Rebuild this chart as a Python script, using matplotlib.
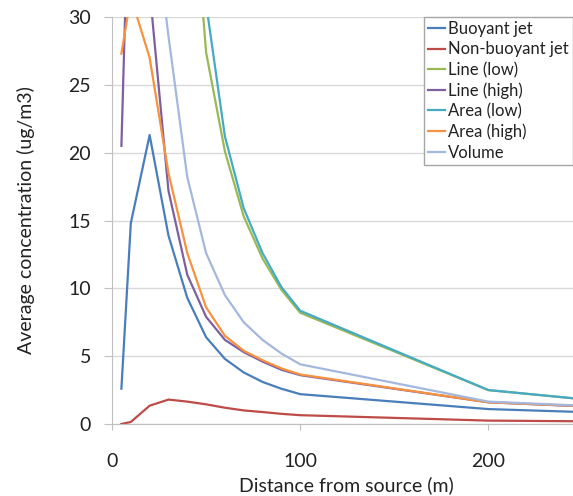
import matplotlib.pyplot as plt

plt.rcParams['font.family'] = ['Lato', 'DejaVu Sans']

distance = [5, 10, 20, 30, 40, 50, 60, 70, 80, 90, 100, 200, 250]

buoyant_jet = [2.6, 14.8, 21.3, 13.9, 9.3, 6.4, 4.8, 3.8, 3.1, 2.6, 2.2, 1.1, 0.88]
non_buoyant_jet = [0.0, 0.15, 1.35, 1.8, 1.65, 1.45, 1.2, 1.0, 0.88, 0.75, 0.65, 0.25, 0.2]
line_low = [None, None, None, None, 45.0, 27.4, 20.1, 15.3, 12.2, 9.9, 8.2, 2.5, 1.83]
line_high = [20.5, 45.0, 32.0, 17.2, 11.0, 7.9, 6.2, 5.3, 4.6, 4.0, 3.6, 1.6, 1.3]
area_low = [None, None, None, None, 50.0, 31.0, 21.2, 15.9, 12.6, 10.1, 8.35, 2.5, 1.83]
area_high = [27.3, 31.5, 27.0, 18.5, 12.6, 8.6, 6.5, 5.4, 4.7, 4.1, 3.65, 1.6, 1.32]
volume = [None, None, 40.0, 28.6, 18.2, 12.6, 9.5, 7.5, 6.2, 5.2, 4.4, 1.65, 1.35]

labels = ['Buoyant jet', 'Non-buoyant jet', 'Line (low)', 'Line (high)',
          'Area (low)', 'Area (high)', 'Volume']
colors = ['#4A7EBB', '#BE4B48', '#98B954', '#7D60A0', '#46AAC5', '#F69240', '#A3B8DC']
series = [buoyant_jet, non_buoyant_jet, line_low, line_high, area_low, area_high, volume]

fig = plt.figure(figsize=(5.73, 4.96), dpi=100)
ax = fig.add_axes([112 / 573, 72 / 496, 1 - 112 / 573, 407 / 496])

for vals, lab, col in zip(series, labels, colors):
    xs = [d for d, v in zip(distance, vals) if v is not None]
    ys = [v for v in vals if v is not None]
    ax.plot(xs, ys, color=col, lw=1.6, label=lab)

ax.set_xlim(0, 245)
ax.set_ylim(0, 30)
ax.set_xticks([0, 100, 200])
ax.set_yticks(range(0, 31, 5))
ax.grid(axis='y', color='#d9d9d9', lw=1)
ax.set_axisbelow(True)
for s in ['top', 'right']:
    ax.spines[s].set_visible(False)
for s in ['left', 'bottom']:
    ax.spines[s].set_color('#bfbfbf')
ax.tick_params(axis='x', length=4, pad=17, color='#bfbfbf', labelsize=14, labelcolor='#222222')
ax.tick_params(axis='y', length=6, pad=9, color='#bfbfbf', labelsize=14, labelcolor='#222222')

ax.set_xlabel('Distance from source (m)', fontsize=14, color='#222222')
ax.set_ylabel('Average concentration (ug/m3)', fontsize=14, color='#222222')
ax.xaxis.set_label_coords(0.508, -0.128)
ax.yaxis.set_label_coords(-0.167, 0.5)

leg = fig.legend(loc='upper left', bbox_to_anchor=(424 / 573, (496 - 17) / 496),
                 fontsize=12, handlelength=1.0, handletextpad=0.2, labelspacing=0.26,
                 borderpad=0.25, fancybox=False, framealpha=1, borderaxespad=0)
leg.get_frame().set_edgecolor('#a6a6a6')
leg.get_frame().set_linewidth(1)
for t in leg.get_texts():
    t.set_color('#222222')

fig.savefig('out.png', dpi=100)
